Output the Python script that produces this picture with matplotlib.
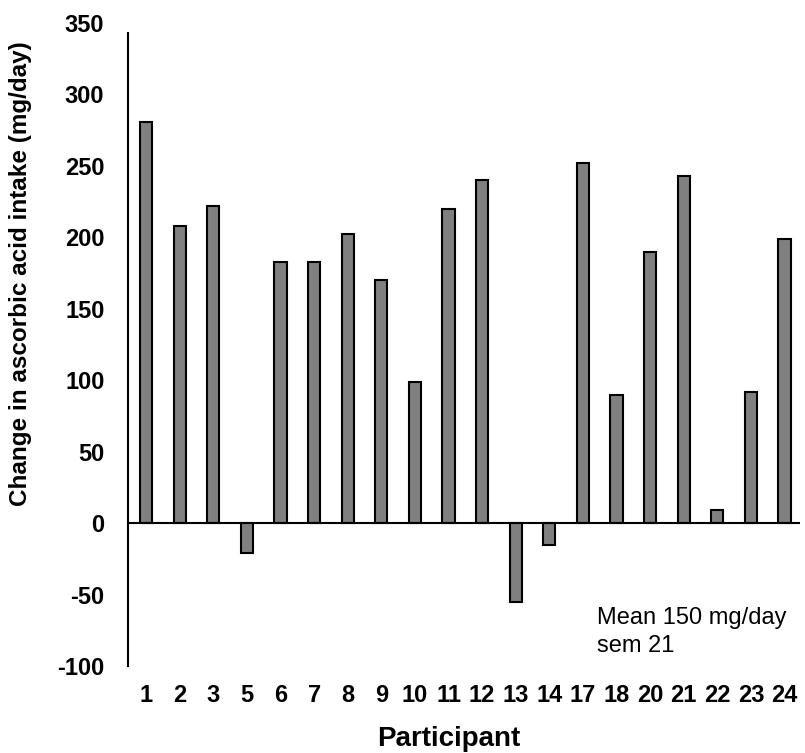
import numpy as np
import matplotlib.pyplot as plt

# ============ Data ===================
participants = ["1", "2", "3", "5", "6", "7", "8", "9", "10", "11", "12", "13",
                "14", "17", "18", "20", "21", "22", "23", "24"]
change = [281, 208, 222, -21, 183, 183, 202, 170, 99, 220, 240, -55,
          -15, 252, 90, 190, 243, 9, 92, 199]
note = "Mean 150 mg/day\nsem 21"
# =====================================

plt.rcParams['font.family'] = ['Liberation Sans', 'DejaVu Sans']
plt.rcParams['axes.unicode_minus'] = False

fig = plt.figure(figsize=(8.05, 7.53), dpi=100)
ax = fig.add_axes([128/805, 1-666/753, (800-128)/805, (666-23)/753])

x = np.arange(len(change))
ax.bar(x, change, width=0.36, color='#808080', edgecolor='black', linewidth=1.5, zorder=3)
ax.axhline(0, color='black', linewidth=1.5, zorder=4)

ax.set_xlim(-0.54, len(change) - 0.54)
ax.set_ylim(-100, 350)
ax.set_yticks(np.arange(-100, 351, 50))
ax.set_xticks(x)
ax.set_xticklabels(participants)

for side in ['top', 'right', 'bottom']:
    ax.spines[side].set_visible(False)
ax.spines['left'].set_linewidth(1.5)
ax.spines['left'].set_bounds(-100, 343)
ax.tick_params(axis='both', length=0, labelsize=17)
ax.tick_params(axis='x', pad=13)
ax.tick_params(axis='y', pad=17)
for lab in ax.get_xticklabels() + ax.get_yticklabels():
    lab.set_fontweight('bold')

ax.set_ylabel("Change in ascorbic acid intake (mg/day)", fontsize=17.5,
              fontweight='bold')
ax.yaxis.set_label_coords(-0.143, 0.61)
ax.set_xlabel("Participant", fontsize=20, fontweight='bold')
ax.xaxis.set_label_coords(0.478, -0.093)

ax.text(13.42, -59, note, fontsize=17, va='top', ha='left', linespacing=1.3)

plt.savefig("out.png", dpi=100)
